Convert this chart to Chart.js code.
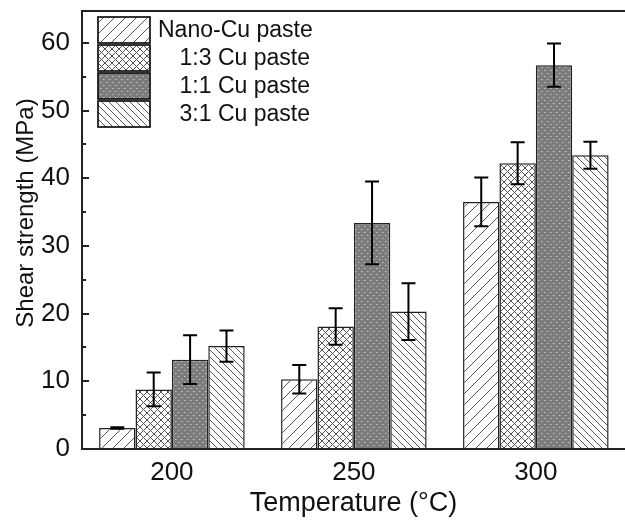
<!DOCTYPE html>
<html>
<head>
<meta charset="utf-8">
<script src="https://cdn.jsdelivr.net/npm/chart.js@4.4.1/dist/chart.umd.min.js"></script>
<style>
html, body { margin: 0; padding: 0; background: #fff; overflow: hidden; }
#wrap { width: 625px; height: 520px; }
</style>
</head>
<body>
<div id="wrap"><canvas id="chart" width="625" height="520"></canvas></div>
<script>
// values (MPa)
const temperatures = [200, 250, 300];
const seriesNames = ['Nano-Cu paste', '1:3 Cu paste', '1:1 Cu paste', '3:1 Cu paste'];
const nanoCu = [3.1, 10.3, 36.5];
const cu13 = [8.8, 18.1, 42.2];
const cu11 = [13.2, 33.4, 56.7];
const cu31 = [15.2, 20.3, 43.4];
const nanoCuErr = [0.1, 2.1, 3.6];
const cu13Err = [2.5, 2.7, 3.1];
const cu11Err = [3.6, 6.1, 3.2];
const cu31Err = [2.3, 4.2, 2.0];
const yTicks = [0, 10, 20, 30, 40, 50, 60];
const yMinorTicks = [5, 15, 25, 35, 45, 55];
const xTicks = [200, 250, 300];
const xTitle = 'Temperature (°C)';
const yTitle = 'Shear strength (MPa)';

const FONT = "'Liberation Sans', Arial, sans-serif";
Chart.defaults.font.family = FONT;
Chart.defaults.color = '#111';

function makePattern(kind) {
    const c = document.createElement('canvas');
    let s = 6;
    if (kind === 'fwd') s = 11;
    if (kind === 'back') s = 7;
    if (kind === 'cross') s = 7;
    c.width = s;
    c.height = s;
    const ctx = c.getContext('2d');
    if (kind === 'dots') {
        ctx.fillStyle = '#7c7c7c';
        ctx.fillRect(0, 0, s, s);
        ctx.fillStyle = '#c4c4c4';
        ctx.fillRect(1, 1, 1.5, 1);
        ctx.fillRect(4, 4, 1.5, 1);
        return ctx.createPattern(c, 'repeat');
    }
    ctx.fillStyle = '#fff';
    ctx.fillRect(0, 0, s, s);
    ctx.strokeStyle = '#555';
    ctx.lineWidth = 1;
    ctx.beginPath();
    for (const o of [-s, 0, s]) {
        if (kind === 'fwd' || kind === 'cross') {
            ctx.moveTo(o, s);
            ctx.lineTo(o + s, 0);
        }
        if (kind === 'back' || kind === 'cross') {
            ctx.moveTo(o, 0);
            ctx.lineTo(o + s, s);
        }
    }
    ctx.stroke();
    return ctx.createPattern(c, 'repeat');
}

const fills = [makePattern('fwd'), makePattern('cross'), makePattern('dots'), makePattern('back')];
const seriesValues = [nanoCu, cu13, cu11, cu31];
const seriesErrors = [nanoCuErr, cu13Err, cu11Err, cu31Err];

const errorBars = {
    id: 'errorBars',
    afterDatasetsDraw(chart) {
        const ctx = chart.ctx;
        const y = chart.scales.y;
        ctx.save();
        ctx.strokeStyle = '#000';
        ctx.lineWidth = 2;
        chart.data.datasets.forEach((ds, di) => {
            const meta = chart.getDatasetMeta(di);
            meta.data.forEach((bar, i) => {
                const v = seriesValues[di][i];
                const e = seriesErrors[di][i];
                const top = y.getPixelForValue(v + e);
                const bot = y.getPixelForValue(v - e);
                ctx.beginPath();
                ctx.moveTo(bar.x, top);
                ctx.lineTo(bar.x, bot);
                ctx.moveTo(bar.x - 7, top);
                ctx.lineTo(bar.x + 7, top);
                ctx.moveTo(bar.x - 7, bot);
                ctx.lineTo(bar.x + 7, bot);
                ctx.stroke();
            });
        });
        ctx.restore();
    }
};

const frame = {
    id: 'frame',
    afterDraw(chart) {
        const ctx = chart.ctx;
        const a = chart.chartArea;
        const y = chart.scales.y;
        ctx.save();
        ctx.strokeStyle = '#222';
        ctx.lineWidth = 2;
        ctx.beginPath();
        ctx.moveTo(a.left, a.top);
        ctx.lineTo(a.left, a.bottom);
        ctx.moveTo(a.left - 1, a.bottom);
        ctx.lineTo(chart.width, a.bottom);
        ctx.moveTo(a.left - 1, a.top);
        ctx.lineTo(chart.width, a.top);
        yTicks.forEach(v => {
            const p = Math.round(y.getPixelForValue(v));
            ctx.moveTo(a.left, p);
            ctx.lineTo(a.left + 7, p);
        });
        yMinorTicks.forEach(v => {
            const p = Math.round(y.getPixelForValue(v));
            ctx.moveTo(a.left, p);
            ctx.lineTo(a.left + 4, p);
        });
        ctx.stroke();

        // y axis title, sits a bit above the plot centre like the original
        ctx.save();
        ctx.translate(26, 213);
        ctx.rotate(-Math.PI / 2);
        ctx.font = '24px ' + FONT;
        ctx.fillStyle = '#111';
        ctx.textAlign = 'center';
        ctx.textBaseline = 'middle';
        ctx.fillText(yTitle, 0, 0);
        ctx.restore();

        // legend
        const bx = 98, bw = 52, bh = 26, pitch = 28, textRight = 310;
        ctx.font = '23px ' + FONT;
        ctx.textBaseline = 'middle';
        seriesNames.forEach((name, i) => {
            const by = 17 + i * pitch;
            ctx.fillStyle = fills[i];
            ctx.fillRect(bx, by, bw, bh);
            ctx.lineWidth = 1.7;
            ctx.strokeStyle = '#111';
            ctx.strokeRect(bx, by, bw, bh);
            ctx.fillStyle = '#111';
            ctx.textAlign = i === 0 ? 'left' : 'right';
            ctx.fillText(name, i === 0 ? 158 : textRight, by + bh / 2 + 1);
        });
        ctx.restore();
    }
};

function noPad(s) {
    s.paddingTop = 0;
    s.paddingBottom = 0;
    s.paddingLeft = 0;
    s.paddingRight = 0;
}

new Chart(document.getElementById('chart'), {
    type: 'bar',
    data: {
        datasets: seriesNames.map((name, i) => ({
            label: name,
            data: temperatures.map((t, j) => ({ x: t, y: seriesValues[i][j] })),
            backgroundColor: fills[i],
            borderColor: '#222',
            borderWidth: 1.5,
            barPercentage: 1,
            categoryPercentage: 0.8
        }))
    },
    options: {
        responsive: false,
        animation: false,
        layout: { padding: { top: 11, right: 0, left: 0, bottom: 0 } },
        plugins: { legend: { display: false }, tooltip: { enabled: false } },
        scales: {
            x: {
                type: 'linear',
                offset: false,
                min: 175.3,
                max: 324.5,
                grid: { display: false, drawTicks: false },
                border: { display: false },
                afterBuildTicks: s => { s.ticks = xTicks.map(v => ({ value: v })); },
                afterFit: s => { s.height = 71; noPad(s); },
                ticks: { font: { size: 26 }, padding: 8, callback: v => String(v) },
                title: { display: true, text: xTitle, font: { size: 27 }, padding: { top: 0, bottom: 0 } }
            },
            y: {
                min: 0,
                max: 64.7,
                grid: { display: false, drawTicks: false },
                border: { display: false },
                afterBuildTicks: s => { s.ticks = yTicks.map(v => ({ value: v })); },
                afterFit: s => { s.width = 82; noPad(s); },
                ticks: { font: { size: 26 }, padding: 12 }
            }
        }
    },
    plugins: [errorBars, frame]
});
</script>
</body>
</html>
